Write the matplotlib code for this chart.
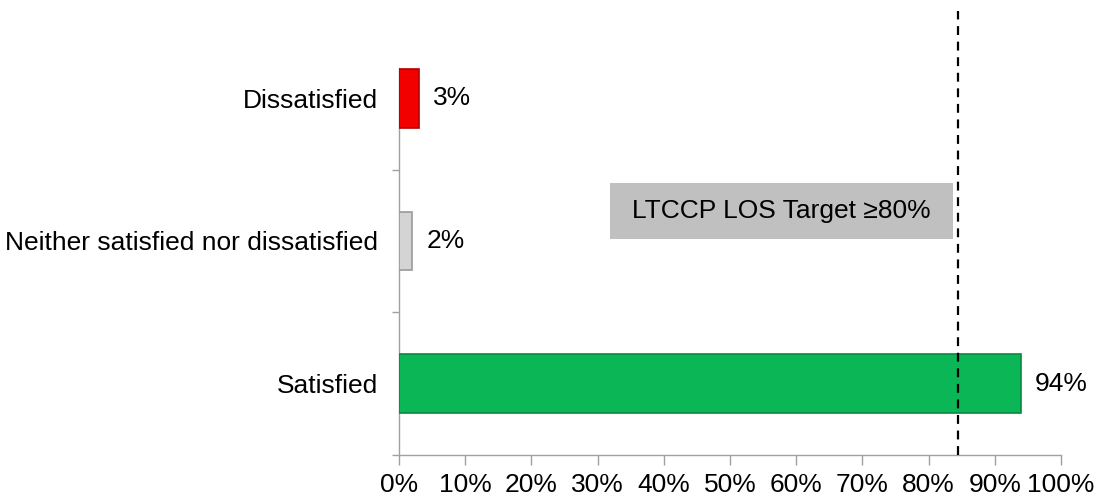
import matplotlib.pyplot as plt
from matplotlib.patches import Rectangle
from matplotlib.ticker import FixedLocator, PercentFormatter

plt.rcParams['font.family'] = ['Liberation Sans', 'DejaVu Sans']

categories = ['Satisfied', 'Neither satisfied nor dissatisfied', 'Dissatisfied']
values = [94, 2, 3]
colors = ['#0BB656', '#D4D4D4', '#F20000']
edges = ['#078A3F', '#9A9A9A', '#B00000']
target_line = 84.5
target_label = 'LTCCP LOS Target \u226580%'

fig = plt.figure(figsize=(10.96, 4.99), dpi=100)
ax = fig.add_axes([399 / 1096, 1 - 455 / 499, 662 / 1096, 428 / 499])

ypos = range(len(categories))
ax.barh(ypos, values, height=0.41, color=colors, edgecolor=edges, linewidth=1.2, zorder=3)

for y, v in zip(ypos, values):
    ax.annotate(f'{v}%', (v, y), xytext=(10, 0), textcoords='offset points',
                va='center', ha='left', fontsize=19)

ax.set_xlim(0, 100)
ax.set_ylim(-0.5, 2.5)
ax.set_xticks(range(0, 101, 10))
ax.xaxis.set_major_formatter(PercentFormatter(decimals=0))
ax.set_yticks(list(ypos))
ax.set_yticklabels(categories)
ax.yaxis.set_minor_locator(FixedLocator([-0.5, 0.5, 1.5]))

ax.tick_params(axis='x', direction='out', length=7, width=1, color='#A0A0A0', labelsize=19, pad=6)
ax.tick_params(axis='y', which='major', length=0, labelsize=19, pad=15)
ax.tick_params(axis='y', which='minor', direction='out', length=5, width=1, color='#A0A0A0')

for side in ['top', 'right']:
    ax.spines[side].set_visible(False)
for side in ['left', 'bottom']:
    ax.spines[side].set_color('#A0A0A0')
    ax.spines[side].set_linewidth(1)
ax.spines['left'].set_bounds(-0.5, 2.21)

# target dashed line, reaching above the plot area
ax.plot([target_line, target_line], [-0.5, 2.61], color='black', linestyle=(0, (4, 3)),
        linewidth=1.6, clip_on=False, zorder=4)

# grey label box
ax.add_patch(Rectangle((31.9, 1.016), 51.8, 0.393, facecolor='#C0C0C0', edgecolor='none', zorder=2))
ax.text(57.8, 1.212, target_label, ha='center', va='center', fontsize=19, zorder=5)

fig.savefig('out.png', dpi=100)
